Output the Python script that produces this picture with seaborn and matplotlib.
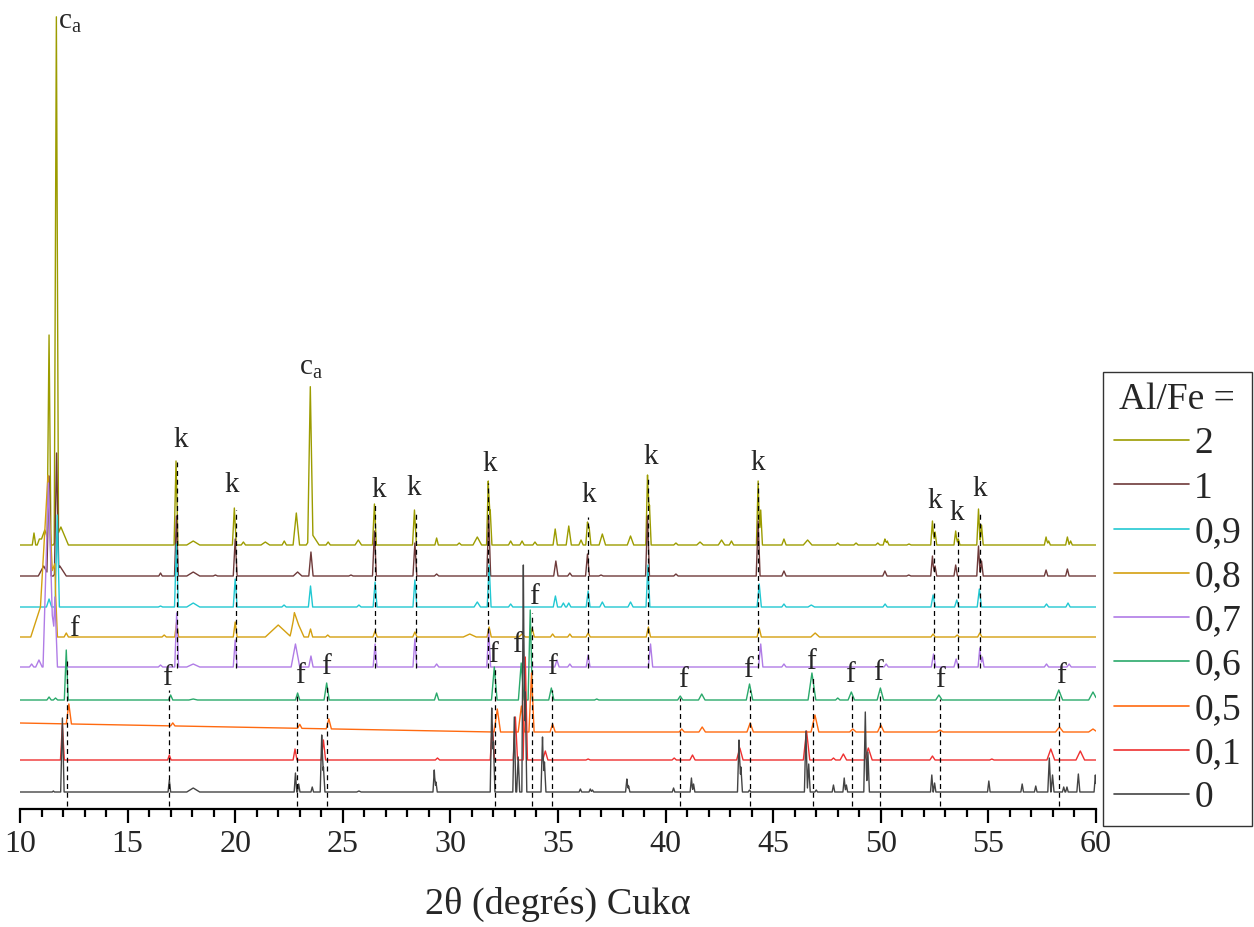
import matplotlib
matplotlib.use("Agg")
import matplotlib.pyplot as plt
from matplotlib.lines import Line2D
from matplotlib.ticker import MultipleLocator
import seaborn as sns
import numpy as np
import pandas as pd

# samples, top to bottom (Al/Fe ratio)
samples = ["2", "1", "0,9", "0,8", "0,7", "0,6", "0,5", "0,1", "0"]
offsets = [264, 233, 202, 172, 142, 109, 77, 49, 17]
colors = ["#9c9c00", "#6e3a3a", "#22c8d2", "#d4a010", "#b07ce6",
          "#2aa96b", "#ff6a10", "#ee3030", "#444444"]

# peaks: (2theta, height, half base width)
peaks_2 = [(10.65, 12, 0.08), (10.9, 6, 0.1), (11.15, 15, 0.25), (11.35, 207, 0.09), (11.69, 521, 0.1),
           (11.9, 18, 0.35), (17.25, 84, 0.09), (18.05, 4, 0.3), (19.96, 37, 0.09), (20.38, 3, 0.1),
           (21.4, 3, 0.2), (22.28, 4, 0.1), (22.84, 32, 0.15), (23.49, 152, 0.12), (23.6, 10, 0.3),
           (24.32, 3, 0.1), (25.72, 5, 0.15), (26.47, 41, 0.09), (28.33, 35, 0.09), (29.36, 7, 0.08),
           (30.41, 2, 0.1), (31.25, 8, 0.2), (31.76, 64, 0.08), (31.85, 35, 0.08), (32.8, 4, 0.1),
           (33.33, 4, 0.1), (33.93, 3, 0.1), (34.87, 16, 0.1), (35.5, 19, 0.12), (36.07, 5, 0.1),
           (36.37, 23, 0.08), (36.45, 17, 0.08), (37.06, 11, 0.15), (38.37, 9, 0.15), (39.16, 70, 0.08),
           (39.25, 40, 0.08), (40.48, 2, 0.1), (41.6, 3, 0.15), (42.6, 5, 0.15), (43.06, 4, 0.1),
           (44.3, 64, 0.08), (44.42, 35, 0.08), (45.5, 6, 0.1), (46.6, 5, 0.2), (48.0, 2, 0.1),
           (48.85, 2, 0.1), (49.86, 2, 0.1), (50.19, 6, 0.08), (50.3, 4, 0.08), (51.31, 1, 0.1),
           (52.4, 24, 0.08), (52.52, 13, 0.08), (53.48, 14, 0.08), (53.6, 6, 0.08), (54.54, 36, 0.08),
           (54.68, 20, 0.08), (57.68, 8, 0.08), (57.8, 4, 0.08), (58.67, 8, 0.08), (58.82, 4, 0.08)]
peaks_1 = [(11.1, 10, 0.25), (11.35, 100, 0.1), (11.7, 118, 0.1), (11.85, 10, 0.3), (16.53, 3, 0.08),
           (17.27, 60, 0.09), (18.05, 4, 0.3), (19.08, 1, 0.1), (20.0, 37, 0.09), (22.9, 4, 0.2),
           (23.52, 24, 0.1), (25.38, 1, 0.1), (26.47, 45, 0.09), (28.35, 33, 0.09), (29.36, 2, 0.1),
           (31.78, 60, 0.09), (34.9, 15, 0.1), (35.55, 3, 0.1), (36.37, 22, 0.09), (37.0, 1, 0.1),
           (39.16, 60, 0.09), (40.48, 2, 0.1), (44.3, 55, 0.09), (45.5, 5, 0.1), (50.19, 5, 0.1),
           (51.3, 1, 0.1), (52.4, 20, 0.08), (52.52, 10, 0.08), (53.48, 11, 0.08), (54.54, 30, 0.08),
           (54.68, 15, 0.08), (57.68, 6, 0.08), (58.67, 7, 0.08)]
peaks_09 = [(11.35, 8, 0.12), (11.73, 92, 0.1), (16.53, 1, 0.1), (17.27, 63, 0.09), (18.05, 4, 0.3),
            (20.0, 28, 0.09), (22.27, 2, 0.1), (23.5, 21, 0.1), (25.75, 2, 0.1), (26.5, 25, 0.09),
            (28.35, 27, 0.09), (31.25, 5, 0.15), (31.8, 42, 0.09), (32.8, 3, 0.1), (34.88, 11, 0.1),
            (35.25, 4, 0.1), (35.5, 4, 0.1), (36.4, 16, 0.09), (37.06, 5, 0.12), (38.37, 5, 0.12),
            (39.18, 42, 0.09), (44.35, 23, 0.1), (45.5, 3, 0.1), (46.77, 2, 0.15), (50.2, 3, 0.1),
            (52.43, 12, 0.1), (53.53, 7, 0.1), (54.58, 18, 0.1), (57.7, 3, 0.1), (58.7, 4, 0.1)]
peaks_08 = [(10.95, 30, 0.45), (11.3, 155, 0.35), (11.62, 60, 0.12), (12.15, 4, 0.1), (16.7, 2, 0.1),
            (17.28, 15, 0.09), (20.0, 15, 0.09), (22.0, 12, 0.6), (22.75, 22, 0.2), (22.95, 12, 0.25),
            (23.5, 8, 0.1), (24.3, 2, 0.1), (26.5, 6, 0.1), (28.35, 5, 0.1), (30.9, 3, 0.3),
            (31.8, 10, 0.1), (33.33, 3, 0.15), (33.8, 9, 0.1), (34.75, 3, 0.1), (35.55, 3, 0.1),
            (36.4, 4, 0.1), (39.2, 10, 0.1), (44.35, 9, 0.1), (46.95, 4, 0.2), (52.43, 3, 0.1),
            (53.55, 2, 0.1), (54.6, 4, 0.1)]
peaks_07 = [(10.54, 3, 0.1), (10.88, 7, 0.15), (11.32, 184, 0.25), (11.62, 70, 0.12), (16.53, 2, 0.1),
            (17.28, 54, 0.09), (18.05, 3, 0.3), (20.0, 27, 0.09), (22.8, 23, 0.2), (23.52, 11, 0.1),
            (26.5, 23, 0.09), (28.35, 28, 0.09), (29.36, 3, 0.1), (31.78, 37, 0.09), (34.95, 7, 0.1),
            (35.55, 3, 0.1), (36.4, 12, 0.09), (39.3, 23, 0.1), (44.42, 23, 0.1), (45.5, 3, 0.1),
            (50.25, 3, 0.1), (52.45, 13, 0.1), (53.5, 8, 0.1), (54.6, 19, 0.08), (54.72, 10, 0.08),
            (57.7, 3, 0.1), (58.75, 3, 0.1)]
peaks_06 = [(11.35, 3, 0.1), (11.65, 2, 0.1), (12.15, 50, 0.09), (17.0, 5, 0.1), (18.05, 1, 0.2),
            (22.9, 7, 0.1), (24.25, 17, 0.12), (29.36, 7, 0.1), (32.04, 33, 0.13), (33.29, 37, 0.13),
            (33.71, 90, 0.1), (34.69, 12, 0.12), (36.8, 1, 0.1), (40.68, 4, 0.12), (41.68, 6, 0.15),
            (43.9, 16, 0.15), (46.8, 27, 0.18), (48.0, 2, 0.1), (48.63, 8, 0.15), (49.98, 12, 0.15),
            (52.7, 5, 0.15), (58.27, 10, 0.18), (59.86, 8, 0.2)]
peaks_05 = [(10.0, 9, 22.0), (12.27, 20, 0.12), (17.1, 3, 0.1), (23.0, 4, 0.1), (24.35, 10, 0.12),
            (32.18, 23, 0.15), (33.3, 26, 0.15), (33.77, 59, 0.12), (34.75, 8, 0.12), (40.75, 3, 0.12),
            (41.7, 5, 0.15), (43.93, 9, 0.15), (46.94, 17, 0.18), (48.7, 3, 0.15), (50.0, 7, 0.15),
            (52.75, 2, 0.15), (58.3, 5, 0.18), (59.86, 3, 0.2)]
peaks_01 = [(11.97, 35, 0.09), (16.94, 5, 0.08), (22.78, 11, 0.09), (24.1, 20, 0.1), (29.4, 2, 0.1),
            (31.95, 35, 0.1), (33.02, 43, 0.1), (33.48, 103, 0.1), (34.41, 9, 0.12), (36.4, 1, 0.1),
            (40.4, 2, 0.1), (41.25, 5, 0.12), (43.45, 12, 0.15), (46.55, 29, 0.15), (47.8, 2, 0.1),
            (48.26, 6, 0.15), (49.42, 12, 0.18), (52.4, 4, 0.12), (55.16, 1, 0.1), (57.9, 11, 0.18),
            (59.27, 9, 0.2)]
peaks_0 = [(11.55, 1, 0.05), (11.97, 74, 0.08), (16.94, 12, 0.06), (18.05, 4, 0.3), (22.8, 19, 0.06),
           (22.95, 8, 0.06), (23.58, 5, 0.06), (24.02, 57, 0.07), (24.1, 25, 0.07), (25.75, 1, 0.1),
           (29.25, 22, 0.06), (29.33, 10, 0.06), (31.92, 84, 0.07), (32.0, 50, 0.07), (32.97, 75, 0.07),
           (33.15, 35, 0.07), (33.39, 227, 0.07), (33.48, 100, 0.07), (34.28, 55, 0.07), (34.37, 30, 0.07),
           (36.04, 3, 0.06), (36.5, 3, 0.06), (36.6, 2, 0.06), (38.2, 13, 0.06), (38.28, 6, 0.06),
           (40.37, 4, 0.06), (41.2, 14, 0.06), (41.3, 8, 0.06), (43.41, 52, 0.07), (43.5, 25, 0.07),
           (43.9, 2, 0.06), (46.52, 61, 0.07), (46.65, 28, 0.07), (47.0, 2, 0.06), (47.8, 7, 0.06),
           (48.3, 14, 0.06), (48.4, 7, 0.06), (49.28, 80, 0.07), (49.4, 40, 0.07), (52.37, 17, 0.06),
           (52.5, 9, 0.06), (55.02, 11, 0.06), (56.57, 8, 0.06), (57.2, 6, 0.06), (57.83, 34, 0.07),
           (57.98, 17, 0.07), (58.5, 5, 0.06), (58.65, 5, 0.06), (59.18, 18, 0.07), (59.97, 17, 0.06)]
all_peaks = [peaks_2, peaks_1, peaks_09, peaks_08, peaks_07, peaks_06, peaks_05, peaks_01, peaks_0]

# phase markers: k (dashed lines over the upper patterns), f (over the lower ones)
k_pos = [17.31, 20.02, 26.5, 28.4, 31.73, 36.41, 39.16, 44.31, 52.45, 53.57, 54.6]
k_top = [347, 299, 304, 297, 326, 292, 331, 326, 287, 278, 298]
k_txt_x = [17.45, 19.82, 26.65, 28.28, 31.85, 36.45, 39.29, 44.26, 52.49, 53.55, 54.58]
k_txt_y = [369, 324, 319, 321, 345, 314, 352, 346, 308, 296, 320]
f_pos = [12.17, 16.94, 22.85, 24.25, 32.05, 33.77, 34.7, 40.68, 43.9, 46.85, 48.64, 49.98, 52.73, 58.29]
f_top = [149, 119, 116, 122, 142, 196, 119, 111, 119, 131, 114, 117, 110, 117]
f_txt_x = [12.52, 16.85, 23.02, 24.23, 31.99, 33.11, 33.9, 34.73, 40.82, 43.84, 46.77, 48.58, 49.88,
           52.76, 58.39]
f_txt_y = [180, 131, 133, 142, 154, 164, 212, 142, 129, 139, 147, 134, 136, 129, 133]
ca_x = [12.33, 23.5]
ca_y = [787, 441]


def trace(peaks, offset):
    pos = np.array([p[0] for p in peaks])
    hgt = np.array([p[1] for p in peaks])
    wid = np.array([p[2] for p in peaks])
    xs = np.concatenate([[10.0, 60.0], pos, pos - wid, pos + wid])
    xs = np.unique(xs[(xs >= 10) & (xs <= 60)])
    tri = np.clip(1 - np.abs(xs[:, None] - pos[None, :]) / wid[None, :], 0, None)
    return xs, offset + (tri * hgt[None, :]).sum(axis=1)


frames = []
for name, pk, off in zip(samples, all_peaks, offsets):
    x, y = trace(pk, off)
    frames.append(pd.DataFrame({"theta": x, "I": y, "Al/Fe": name}))
df = pd.concat(frames, ignore_index=True)

sns.set_style("ticks")
plt.rcParams["font.family"] = ["Liberation Serif", "DejaVu Serif"]
plt.rcParams["mathtext.fontset"] = "custom"
plt.rcParams["mathtext.rm"] = "Liberation Serif"

fig = plt.figure(figsize=(12.54, 9.27), dpi=100)
ax = fig.add_axes([20 / 1254, 1 - 809 / 927, 1076 / 1254, 799 / 927])

sns.lineplot(data=df, x="theta", y="I", hue="Al/Fe", hue_order=samples, palette=colors,
             estimator=None, sort=True, linewidth=1.0, legend=False, ax=ax)

dash = (0, (4, 3))
ax.vlines(k_pos, 141, k_top, colors="black", linestyles=dash, linewidth=0.9)
ax.vlines(f_pos, 3, f_top, colors="black", linestyles=dash, linewidth=0.9)
for x, y in zip(k_txt_x, k_txt_y):
    ax.text(x, y, "k", fontsize=21, ha="center", va="center")
for x, y in zip(f_txt_x, f_txt_y):
    ax.text(x, y, "f", fontsize=21, ha="center", va="center")
for x, y in zip(ca_x, ca_y):
    ax.text(x, y, r"c$_\mathregular{a}$", fontsize=21, ha="center", va="center")

ax.set_xlim(10, 60)
ax.set_ylim(0, 799)
ax.set_yticks([])
ax.set_ylabel("")
ax.xaxis.set_major_locator(MultipleLocator(5))
ax.xaxis.set_minor_locator(MultipleLocator(1))
for s in ["left", "top", "right"]:
    ax.spines[s].set_visible(False)
ax.spines["bottom"].set_linewidth(1.6)
ax.spines["bottom"].set_color("black")
ax.tick_params(axis="x", which="major", direction="out", length=10, width=1.6, color="black",
               labelsize=23, pad=5)
ax.tick_params(axis="x", which="minor", direction="out", length=6, width=1.6, color="black")
ax.set_xlabel("2θ (degrés) Cukα", fontsize=27.5, labelpad=20)

handles = [Line2D([], [], color=c, linewidth=1.2) for c in colors]
leg = ax.legend(handles, samples, title="Al/Fe =", loc="upper left",
                bbox_to_anchor=(1103 / 1254, 1 - 372 / 927), bbox_transform=fig.transFigure,
                frameon=True, fancybox=False, edgecolor="black", fontsize=27, title_fontsize=27,
                handlelength=2.0, handletextpad=0.15, labelspacing=0.26, borderpad=0.28,
                borderaxespad=0)
leg.get_frame().set_linewidth(1.0)

fig.savefig("out.png", dpi=100)
